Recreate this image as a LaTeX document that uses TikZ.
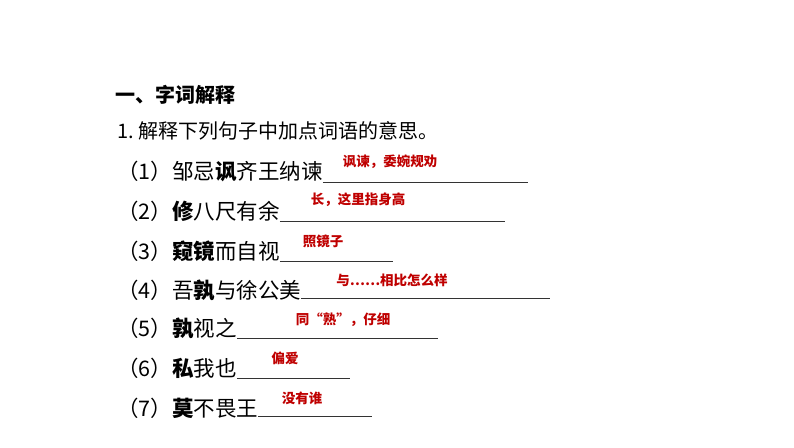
\documentclass[tikz,border=0pt]{standalone}
\usepackage{fontspec}
\setmainfont{Noto Sans CJK SC}
\newcommand{\pnum}[1]{\makebox[55pt][l]{（#1）}}
\begin{document}
\begin{tikzpicture}[x=1pt,y=-1pt,
  txt/.style={anchor=west,inner sep=0pt,font=\fontsize{21.5}{23}\selectfont},
  ans/.style={inner sep=0pt,text=red!75!black,font=\fontsize{13.5}{15}\selectfont\bfseries},
  blank/.style={line width=0.8pt,draw=black!80}]
\useasboundingbox[fill=white] (0,0) rectangle (794,447);
\node[txt,font=\fontsize{20}{22}\selectfont\bfseries] (t) at (115,95) {一、字词解释};
\node[txt,font=\fontsize{20}{22}\selectfont] (q) at (117,131) {1.\ 解释下列句子中加点词语的意思。};
\node[txt] (l1) at (117,171) {\pnum{1}邹忌\textbf{讽}齐王纳谏};
\node[txt] (l2) at (117,211) {\pnum{2}\textbf{修}八尺有余};
\node[txt] (l3) at (117,251) {\pnum{3}\textbf{窥镜}而自视};
\node[txt] (l4) at (117,291) {\pnum{4}吾\textbf{孰}与徐公美};
\node[txt] (l5) at (117,329) {\pnum{5}\textbf{孰}视之};
\node[txt] (l6) at (117,368) {\pnum{6}\textbf{私}我也};
\node[txt] (l7) at (117,408) {\pnum{7}\textbf{莫}不畏王};
\coordinate (e1) at (528,182); \draw[blank] (l1.east|-e1) -- (e1);
\coordinate (e2) at (505,221); \draw[blank] (l2.east|-e2) -- (e2);
\coordinate (e3) at (393,261); \draw[blank] (l3.east|-e3) -- (e3);
\coordinate (e4) at (550,298); \draw[blank] (l4.east|-e4) -- (e4);
\coordinate (e5) at (438,338); \draw[blank] (l5.east|-e5) -- (e5);
\coordinate (e6) at (350,378); \draw[blank] (l6.east|-e6) -- (e6);
\coordinate (e7) at (372,416); \draw[blank] (l7.east|-e7) -- (e7);
\node[ans] (a1) at (390,162) {讽谏，委婉规劝};
\node[ans] (a2) at (358,200) {长，这里指身高};
\node[ans] (a3) at (323,241) {照镜子};
\node[ans] (a4) at (392,280) {与……相比怎么样};
\node[ans] (a5) at (343,320) {同“熟”，仔细};
\node[ans] (a6) at (285,358) {偏爱};
\node[ans] (a7) at (302,398) {没有谁};
\end{tikzpicture}
\end{document}
